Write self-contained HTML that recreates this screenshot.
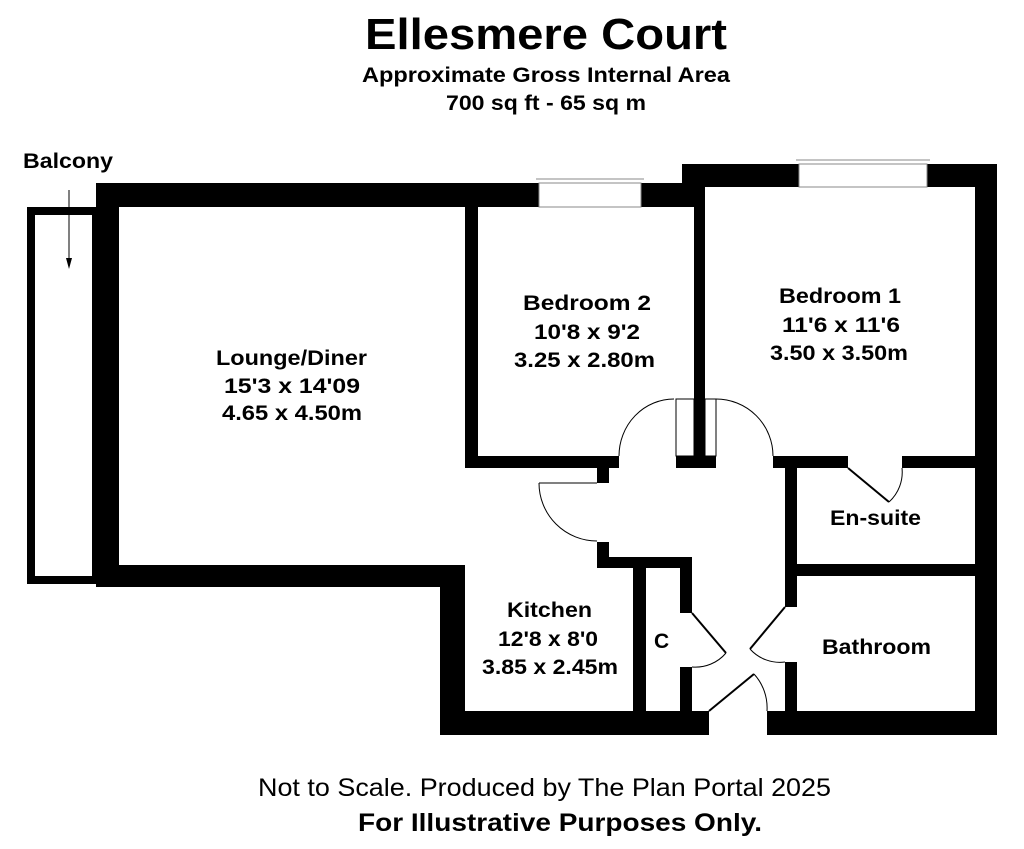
<!DOCTYPE html>
<html><head><meta charset="utf-8"><style>
html,body{margin:0;padding:0;background:#fff;}
svg{display:block;}
text{font-family:"Liberation Sans",Arial,sans-serif;fill:#000;}
.b{font-weight:bold;font-size:21px;}
</style></head><body>
<svg width="1024" height="849" viewBox="0 0 1024 849">
<text x="365" y="49" font-weight="bold" font-size="44" textLength="362" lengthAdjust="spacingAndGlyphs">Ellesmere Court</text>
<text x="362" y="82" class="b" textLength="368" lengthAdjust="spacingAndGlyphs">Approximate Gross Internal Area</text>
<text x="446" y="110" class="b" textLength="200" lengthAdjust="spacingAndGlyphs">700 sq ft - 65 sq m</text>
<text x="258" y="796" font-size="25" textLength="573" lengthAdjust="spacingAndGlyphs">Not to Scale. Produced by The Plan Portal 2025</text>
<text x="358" y="831" font-size="25" font-weight="bold" textLength="404" lengthAdjust="spacingAndGlyphs">For Illustrative Purposes Only.</text>

<!-- balcony -->
<rect x="31" y="211" width="65" height="369" fill="none" stroke="#000" stroke-width="8"/>
<text x="23" y="168" class="b" textLength="90" lengthAdjust="spacingAndGlyphs">Balcony</text>
<line x1="69" y1="190" x2="69" y2="262" stroke="#000" stroke-width="1"/>
<polygon points="66,258 72,258 69,269" fill="#000"/>

<g fill="#000">
<rect x="96" y="183" width="598" height="24"/>
<rect x="682" y="164" width="315" height="23"/>
<rect x="682" y="164" width="23" height="43"/>
<rect x="96" y="183" width="23" height="404"/>
<rect x="96" y="565" width="369" height="22"/>
<rect x="440" y="565" width="25" height="170"/>
<rect x="465" y="207" width="13" height="261"/>
<rect x="465" y="456" width="154" height="12"/>
<rect x="694" y="187" width="11" height="281"/>
<rect x="676" y="456" width="40" height="12"/>
<rect x="773" y="456" width="75" height="12"/>
<rect x="902" y="456" width="73" height="12"/>
<rect x="975" y="164" width="22" height="571"/>
<rect x="597" y="468" width="12" height="15"/>
<rect x="597" y="542" width="12" height="26"/>
<rect x="597" y="557" width="95" height="11"/>
<rect x="633" y="557" width="13" height="178"/>
<rect x="680" y="557" width="12" height="56"/>
<rect x="680" y="667" width="12" height="68"/>
<rect x="440" y="711" width="269" height="24"/>
<rect x="767" y="711" width="230" height="24"/>
<rect x="785" y="468" width="12" height="139"/>
<rect x="785" y="662" width="12" height="49"/>
<rect x="797" y="564" width="178" height="12"/>
</g>

<g fill="#fff" stroke="#888" stroke-width="1">
<rect x="539" y="183" width="102" height="24"/>
<rect x="799" y="164" width="128" height="23"/>
</g>
<line x1="536" y1="179" x2="644" y2="179" stroke="#888"/>
<line x1="796" y1="160" x2="930" y2="160" stroke="#888"/>

<g fill="#fff" stroke="#000" stroke-width="1">
<rect x="676" y="399" width="18" height="57"/>
<rect x="705" y="399" width="11" height="57"/>
</g>

<g fill="none" stroke="#000" stroke-width="1">
<path d="M674,399 A55,57 0 0 0 619,456"/>
<path d="M716,399 A57,57 0 0 1 773,456"/>
<line x1="539" y1="483" x2="597" y2="483"/>
<path d="M539,483 A58,58 0 0 0 597,541"/>
<path d="M726,653 A40,40 0 0 1 692,667"/>
<path d="M754,674 A50,50 0 0 1 767,711"/>
<path d="M750,649 A40,40 0 0 0 785,662"/>
<path d="M889,502 A40,40 0 0 0 902,468"/>
</g>
<g stroke="#000" stroke-width="2">
<line x1="692" y1="613" x2="726" y2="653"/>
<line x1="709" y1="711" x2="754" y2="674"/>
<line x1="785" y1="607" x2="750" y2="649"/>
<line x1="848" y1="468" x2="889" y2="502"/>
</g>

<g>
<text x="216" y="365" class="b" textLength="151" lengthAdjust="spacingAndGlyphs">Lounge/Diner</text>
<text x="224" y="393" class="b" textLength="136" lengthAdjust="spacingAndGlyphs">15'3 x 14'09</text>
<text x="222" y="420" class="b" textLength="140" lengthAdjust="spacingAndGlyphs">4.65 x 4.50m</text>
<text x="523" y="310" class="b" textLength="128" lengthAdjust="spacingAndGlyphs">Bedroom 2</text>
<text x="534" y="339" class="b" textLength="106" lengthAdjust="spacingAndGlyphs">10'8 x 9'2</text>
<text x="514" y="367" class="b" textLength="141" lengthAdjust="spacingAndGlyphs">3.25 x 2.80m</text>
<text x="779" y="303" class="b" textLength="122" lengthAdjust="spacingAndGlyphs">Bedroom 1</text>
<text x="782" y="332" class="b" textLength="118" lengthAdjust="spacingAndGlyphs">11'6 x 11'6</text>
<text x="770" y="360" class="b" textLength="138" lengthAdjust="spacingAndGlyphs">3.50 x 3.50m</text>
<text x="507" y="617" class="b" textLength="85" lengthAdjust="spacingAndGlyphs">Kitchen</text>
<text x="498" y="646" class="b" textLength="100" lengthAdjust="spacingAndGlyphs">12'8 x 8'0</text>
<text x="482" y="674" class="b" textLength="136" lengthAdjust="spacingAndGlyphs">3.85 x 2.45m</text>
<text x="830" y="525" class="b" textLength="91" lengthAdjust="spacingAndGlyphs">En-suite</text>
<text x="822" y="654" class="b" textLength="109" lengthAdjust="spacingAndGlyphs">Bathroom</text>
<text x="654" y="648" class="b">C</text>
</g>
</svg>
</body></html>
